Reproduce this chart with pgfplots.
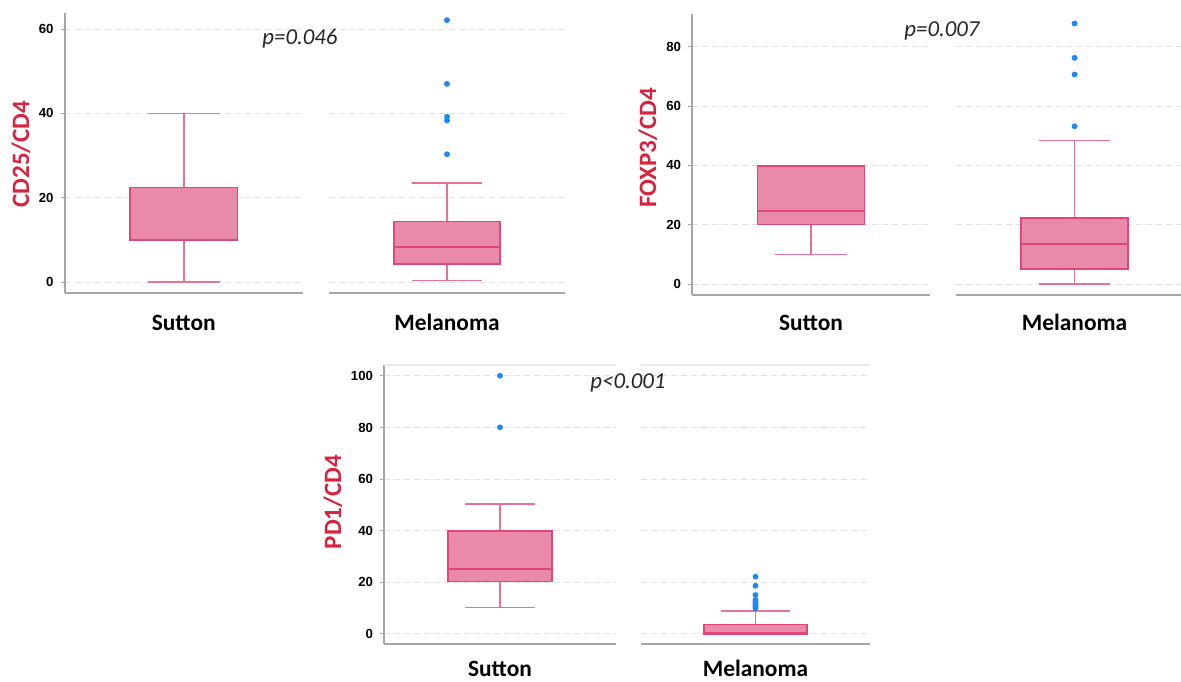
\documentclass[border=0pt]{standalone}
\usepackage{pgfplots}
\pgfplotsset{compat=1.18}
\usepgfplotslibrary{statistics}
\usepackage{fontspec}
\setmainfont{Carlito}
\newfontfamily\tickfont{Liberation Sans}
\definecolor{boxfill}{RGB}{233,138,170}
\definecolor{boxedge}{RGB}{224,70,125}
\definecolor{whisk}{RGB}{234,112,156}
\definecolor{outblue}{RGB}{30,136,245}
\definecolor{labred}{RGB}{214,35,62}
\definecolor{axgray}{RGB}{166,166,166}
\definecolor{gridgray}{RGB}{226,226,226}
\definecolor{topgray}{RGB}{232,232,232}
\pgfplotsset{
  base/.style={scale only axis, clip=false, anchor=south west,
    axis line style={axgray, line width=1pt, -},
    xmin=0, xmax=1, xtick={0.5}, xtick style={draw=none},
    xticklabel style={font=\bfseries\fontsize{11.7}{13}\selectfont, anchor=base},
    ymajorgrids, grid style={gridgray, dash pattern=on 3pt off 2pt, line width=0.5pt},
    tick align=outside, ytick style={axgray, line width=0.5pt}, major tick length=2pt,
    yticklabel style={font=\tickfont\bfseries\fontsize{6.6}{7}\selectfont},
    /pgf/number format/assume math mode=true,
  },
  leftax/.style={base, axis x line*=bottom, axis y line*=left},
  rightax/.style={base, axis x line*=bottom, axis y line*=left,
    y axis line style={draw=none}, yticklabels={}, ytick style={draw=none}},
  bx/.style={boxplot prepared={draw direction=y, draw position=0.5,
      box extend=0.45, whisker extend=0.3, #1},
    boxplot/every box/.style={draw=boxedge, fill=boxfill, line width=0.75pt},
    boxplot/every whisker/.style={draw=whisk, line width=0.8pt},
    boxplot/every median/.style={draw=boxedge, line width=0.85pt},
    mark=*, mark size=1.25pt, mark options={draw=outblue, fill=outblue}},
}
\begin{document}
\begin{tikzpicture}
\path[use as bounding box] (0,0) rectangle (590.5pt,340.5pt);
% ---------- Panel 1: CD25/CD4 ----------
\begin{axis}[leftax, at={(32.25pt,194.25pt)}, width=119.25pt, height=139.75pt,
  ymin=-2.49, ymax=63.8, ytick={0,20,40,60}, xticklabels={Sutton},
  xticklabel style={yshift=-16.75pt}]
\addplot[bx={lower whisker=0, lower quartile=10, median=10,
  upper quartile=22.4, upper whisker=40}] coordinates {};
\end{axis}
\begin{axis}[rightax, at={(164.5pt,194.25pt)}, width=118pt, height=139.75pt,
  ymin=-2.49, ymax=63.8, ytick={0,20,40,60}, xticklabels={Melanoma},
  xticklabel style={yshift=-16.75pt}]
\addplot[bx={lower whisker=0.4, lower quartile=4.3, median=8.3,
  upper quartile=14.3, upper whisker=23.5}] table[row sep=\\, y index=0] {v\\ 62.1\\ 47\\ 39.2\\ 38.3\\ 30.3\\};
\end{axis}
% ---------- Panel 2: FOXP3/CD4 ----------
\begin{axis}[leftax, at={(346pt,193pt)}, width=119pt, height=140.5pt,
  ymin=-3.71, ymax=91.1, ytick={0,20,40,60,80}, xticklabels={Sutton},
  xticklabel style={yshift=-15.5pt}]
\addplot[bx={lower whisker=9.9, lower quartile=20, median=24.7,
  upper quartile=39.8, upper whisker=39.8}] coordinates {};
\end{axis}
\begin{axis}[rightax, at={(477.75pt,193pt)}, width=112.75pt, height=140.5pt, xmax=0.947,
  ymin=-3.71, ymax=91.1, ytick={0,20,40,60,80}, xticklabels={Melanoma},
  xticklabel style={yshift=-15.5pt}]
\addplot[bx={lower whisker=0, lower quartile=5, median=13.5,
  upper quartile=22.2, upper whisker=48.4}] table[row sep=\\, y index=0] {v\\ 87.9\\ 76.3\\ 70.7\\ 53.2\\};
\end{axis}
% ---------- Panel 3: PD1/CD4 ----------
\begin{axis}[leftax, at={(192pt,18.5pt)}, width=116pt, height=139.5pt,
  ymin=-3.88, ymax=104.26, ytick={0,20,40,60,80,100}, xticklabels={Sutton},
  xticklabel style={yshift=-14pt}]
\draw[topgray, line width=1pt] (rel axis cs:0,1) -- (rel axis cs:1,1);
\addplot[bx={lower whisker=10.2, lower quartile=20.3, median=25.2,
  upper quartile=40, upper whisker=50.3}] table[row sep=\\, y index=0] {v\\ 100.1\\ 80.1\\};
\end{axis}
\begin{axis}[rightax, at={(320.5pt,18.5pt)}, width=114.5pt, height=139.5pt,
  ymin=-3.88, ymax=104.26, ytick={0,20,40,60,80,100}, xticklabels={Melanoma},
  xticklabel style={yshift=-14pt}]
\draw[topgray, line width=1pt] (rel axis cs:0,1) -- (rel axis cs:1,1);
\addplot[bx={lower whisker=0, lower quartile=0, median=0.5,
  upper quartile=3.6, upper whisker=8.8}] table[row sep=\\, y index=0] {v\\ 22.2\\ 18.7\\ 15.1\\ 13.2\\ 12.5\\ 12\\ 11.5\\ 11\\ 10.5\\ 10\\};
\end{axis}
% ---------- labels ----------
\node[rotate=90, labred, font=\bfseries\fontsize{12.5}{14}\selectfont] at (10.5pt,263.5pt) {CD25/CD4};
\node[rotate=90, labred, font=\bfseries\fontsize{12.5}{14}\selectfont] at (324pt,266.5pt) {FOXP3/CD4};
\node[rotate=90, labred, font=\bfseries\fontsize{12.5}{14}\selectfont] at (166.5pt,89.5pt) {PD1/CD4};
\node[font=\itshape\fontsize{11.4}{13}\selectfont, text=black!85] at (150pt,321pt) {p=0.046};
\node[font=\itshape\fontsize{11.4}{13}\selectfont, text=black!85] at (471pt,325pt) {p=0.007};
\node[font=\itshape\fontsize{11.4}{13}\selectfont, text=black!85] at (314pt,149pt) {p<0.001};
\end{tikzpicture}
\end{document}
